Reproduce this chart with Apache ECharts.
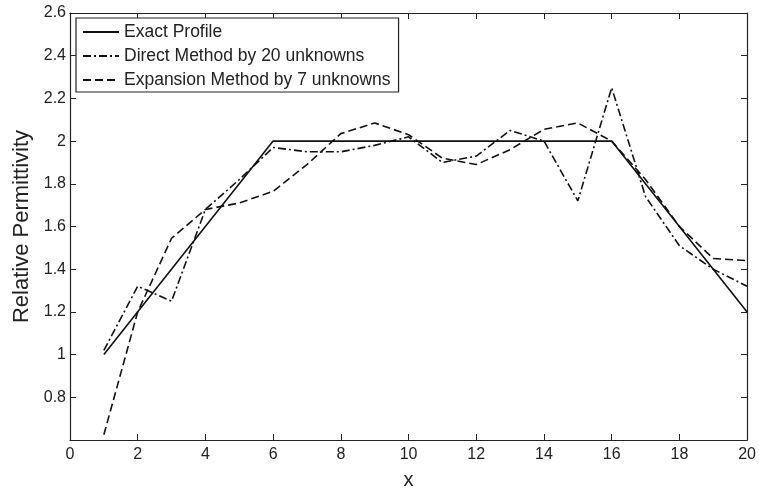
<!DOCTYPE html>
<html>
<head>
<meta charset="utf-8">
<script src="https://cdn.jsdelivr.net/npm/echarts@6/dist/echarts.min.js"></script>
<style>html,body{margin:0;padding:0;background:#fff}#c{width:759px;height:495px}</style>
</head>
<body>
<div id="c"></div>
<script>
const seriesNames = ['Exact Profile', 'Direct Method by 20 unknowns', 'Expansion Method by 7 unknowns'];
const exactX = [1, 6, 16, 20];
const exactY = [1.0, 2.0, 2.0, 1.2];
const xs = [1,2,3,4,5,6,7,8,9,10,11,12,13,14,15,16,17,18,19,20];
const directY = [1.02,1.32,1.25,1.68,1.82,1.97,1.95,1.95,1.98,2.02,1.90,1.93,2.05,2.00,1.72,2.25,1.74,1.51,1.40,1.32];
const expansionY = [0.625,1.20,1.545,1.68,1.71,1.765,1.89,2.035,2.085,2.03,1.92,1.89,1.96,2.055,2.085,2.00,1.82,1.60,1.45,1.44];
const xTicks = {min: 0, max: 20, interval: 2};
const yTicks = {min: 0.6, max: 2.6, interval: 0.2};

const pair = (a, b) => a.map((v, i) => [v, b[i]]);
const txt = '#222';
const font = 'Liberation Sans, Arial, sans-serif';
const chart = echarts.init(document.getElementById('c'));
const axisCommon = {
  axisLine: {show: true, onZero: false, lineStyle: {color: '#222', width: 1.2}},
  axisTick: {show: true, inside: true, length: 6, lineStyle: {color: '#222'}},
  splitLine: {show: false}
};
chart.setOption({
  animation: false,
  grid: {left: 70, right: 11, top: 13, bottom: 53},
  legend: {
    orient: 'vertical', left: 76, top: 18,
    data: seriesNames,
    backgroundColor: '#fff', borderColor: '#222', borderWidth: 1.2, borderRadius: 0,
    padding: [5, 8, 3, 6], itemGap: 6, itemWidth: 36, itemHeight: 18,
    itemStyle: {opacity: 0},
    textStyle: {color: txt, fontSize: 17.5, lineHeight: 18, fontFamily: font}
  },
  xAxis: [
    Object.assign({type: 'value', min: xTicks.min, max: xTicks.max, interval: xTicks.interval,
      name: 'x', nameLocation: 'middle', nameGap: 30,
      nameTextStyle: {color: txt, fontSize: 20, fontFamily: font},
      axisLabel: {color: txt, fontSize: 16, fontFamily: font, margin: 7}}, axisCommon),
    Object.assign({type: 'value', position: 'top', min: xTicks.min, max: xTicks.max, interval: xTicks.interval,
      axisLabel: {show: false}}, axisCommon)
  ],
  yAxis: [
    Object.assign({type: 'value', min: yTicks.min, max: yTicks.max, interval: yTicks.interval,
      name: 'Relative Permittivity', nameLocation: 'middle', nameGap: 36,
      nameTextStyle: {color: txt, fontSize: 22, fontFamily: font},
      axisLabel: {color: txt, fontSize: 16, fontFamily: font, margin: 4, showMinLabel: false,
        formatter: v => String(parseFloat(v.toFixed(1)))}}, axisCommon),
    Object.assign({type: 'value', position: 'right', min: yTicks.min, max: yTicks.max, interval: yTicks.interval,
      axisLabel: {show: false}}, axisCommon)
  ],
  series: [
    {name: seriesNames[0], type: 'line', data: pair(exactX, exactY), symbol: 'none',
      lineStyle: {color: '#111', width: 1.6, type: 'solid'}, itemStyle: {color: '#111'}},
    {name: seriesNames[1], type: 'line', data: pair(xs, directY), symbol: 'none',
      lineStyle: {color: '#111', width: 1.6, type: [8, 3, 2, 3]}, itemStyle: {color: '#111'}},
    {name: seriesNames[2], type: 'line', data: pair(xs, expansionY), symbol: 'none',
      lineStyle: {color: '#111', width: 1.6, type: [8, 4]}, itemStyle: {color: '#111'}}
  ]
});
</script>
</body>
</html>
